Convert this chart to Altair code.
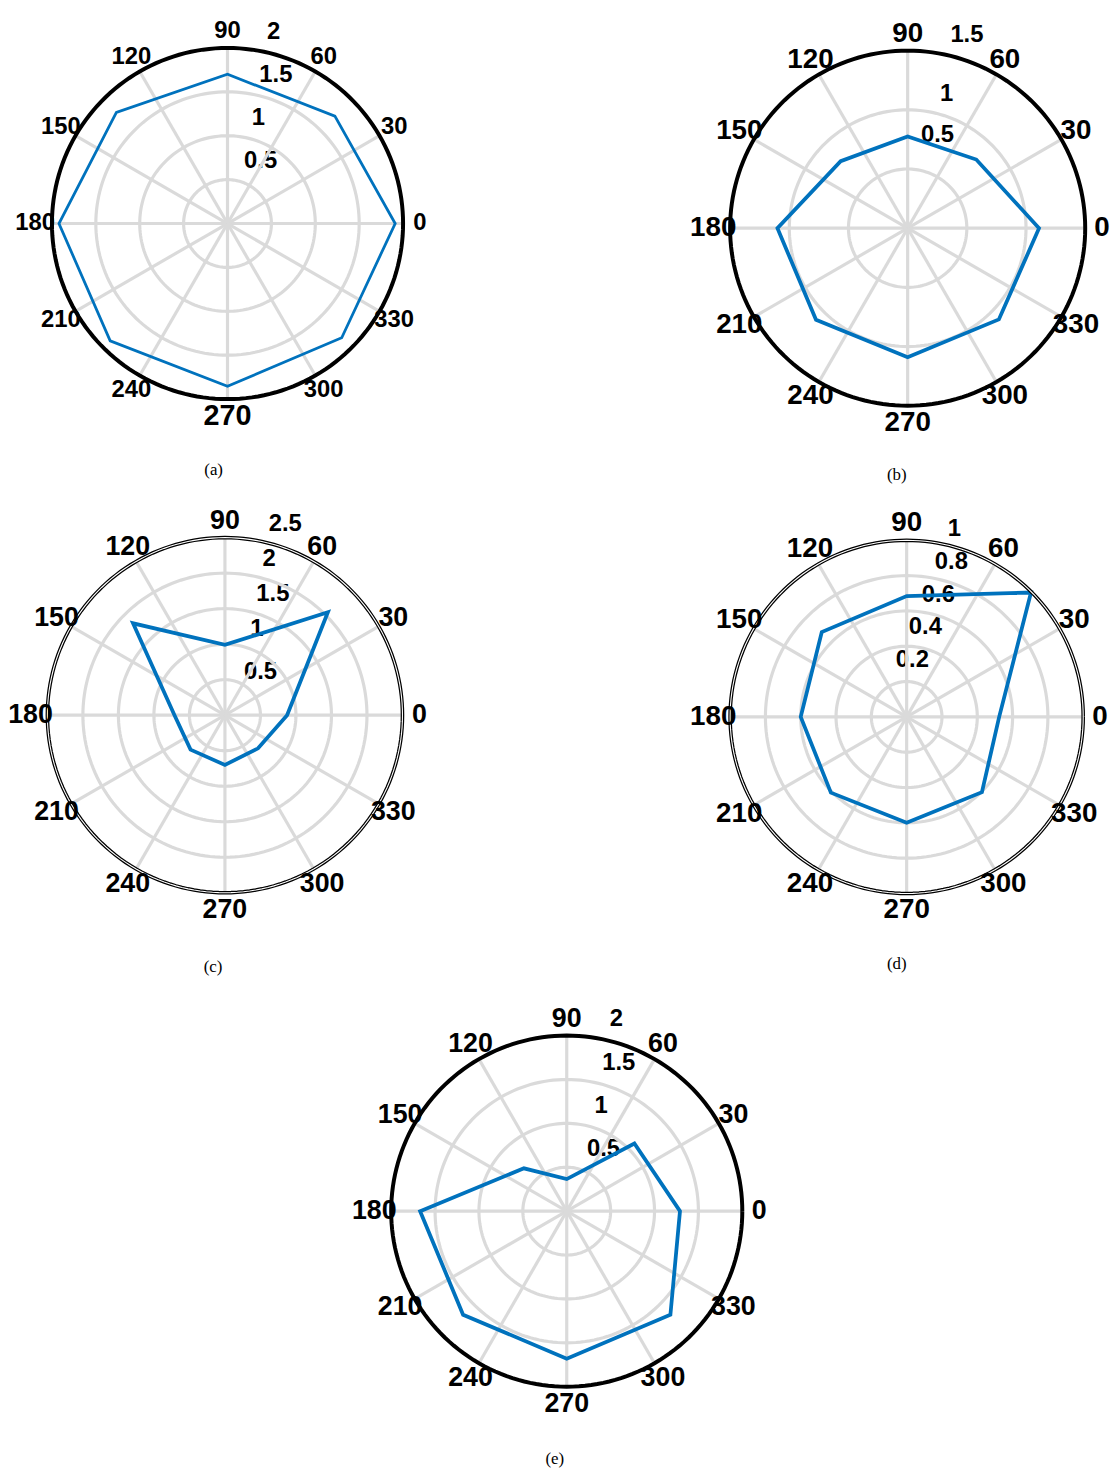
import altair as alt
import pandas as pd

# ---------------- data ----------------
ANGLES = [0, 45, 90, 135, 180, 225, 270, 315]

VALUES_A = [1.91, 1.73, 1.70, 1.79, 1.92, 1.89, 1.855, 1.84]
VALUES_B = [1.11, 0.82, 0.775, 0.80, 1.10, 1.095, 1.09, 1.09]
VALUES_C = [0.875, 2.05, 0.99, 1.83, 0.71, 0.685, 0.70, 0.66]
VALUES_D = [0.524, 0.996, 0.684, 0.68, 0.60, 0.607, 0.60, 0.603]
VALUES_E = [1.29, 1.09, 0.365, 0.69, 1.67, 1.67, 1.68, 1.67]

THETA_TICKS = [0, 30, 60, 90, 120, 150, 180, 210, 240, 270, 300, 330]
THETA_LABELS = ["0", "30", "60", "90", "120", "150", "180", "210", "240", "270", "300", "330"]

RTICKS_A = [0.5, 1, 1.5, 2]
RLABELS_A = ["0.5", "1", "1.5", "2"]
RTICKS_B = [0.5, 1, 1.5]
RLABELS_B = ["0.5", "1", "1.5"]
RTICKS_C = [0.5, 1, 1.5, 2, 2.5]
RLABELS_C = ["0.5", "1", "1.5", "2", "2.5"]
RTICKS_D = [0.2, 0.4, 0.6, 0.8, 1.0]
RLABELS_D = ["0.2", "0.4", "0.6", "0.8", "1"]
RTICKS_E = [0.5, 1, 1.5, 2]
RLABELS_E = ["0.5", "1", "1.5", "2"]

CAPTIONS = ["(a)", "(b)", "(c)", "(d)", "(e)"]

FONT = "Liberation Sans"
SERIF = "Liberation Serif"
GRID = "#dadada"
BLUE = "#0072BD"


def panel(values, rticks, rlabels, caption, width, height, cx, cy, R,
          angle_font, line_w, double_circle=False, big270=False,
          cap_dx=-13, cap_dy=250, tick_angle=80, tick_dx=10, tick_dy=-18,
          nudge=None):
    nudge = nudge or {}
    rmax = rticks[-1]
    s = R / rmax  # pixels per data unit
    xs = alt.Scale(domain=[-cx / s, (width - cx) / s], nice=False, zero=False)
    ys = alt.Scale(domain=[-(height - cy) / s, cy / s], nice=False, zero=False)

    def X(f):
        return alt.X(f, type="quantitative", scale=xs, axis=None)

    def Y(f):
        return alt.Y(f, type="quantitative", scale=ys, axis=None)

    # radial tick labels (drawn first: grid lines pass over them)
    tick_df = pd.DataFrame({"r": rticks, "label": rlabels})
    base_ticks = alt.Chart(tick_df).transform_calculate(
        x=f"datum.r*cos({tick_angle}*PI/180)", y=f"datum.r*sin({tick_angle}*PI/180)"
    )
    text_style = dict(align="left", baseline="middle", fontSize=24,
                      fontWeight="bold", font=FONT, color="black")
    tick_layers = []
    skip = " && ".join([f"datum.label != '{k}'" for k in nudge]) or "true"
    tick_layers.append(
        base_ticks.transform_filter(skip).mark_text(dx=tick_dx, dy=tick_dy, **text_style)
        .encode(x=X("x"), y=Y("y"), text="label:N")
    )
    for k, (ndx, ndy) in nudge.items():
        tick_layers.append(
            base_ticks.transform_filter(f"datum.label == '{k}'")
            .mark_text(dx=tick_dx + ndx, dy=tick_dy + ndy, **text_style)
            .encode(x=X("x"), y=Y("y"), text="label:N")
        )

    def circles(rings, color, w):
        df = pd.DataFrame({"ring": rings})
        return alt.Chart(df).transform_calculate(
            deg="sequence(0, 361, 2)"
        ).transform_flatten(["deg"]).transform_calculate(
            x="datum.ring*cos(datum.deg*PI/180)",
            y="datum.ring*sin(datum.deg*PI/180)"
        ).mark_line(color=color, strokeWidth=w).encode(
            x=X("x"), y=Y("y"), detail="ring:N", order="deg:Q"
        )

    grid_rings = circles(rticks[:-1], GRID, 3.2)

    spoke_df = pd.DataFrame({"t": THETA_TICKS})
    spokes = alt.Chart(spoke_df).transform_calculate(
        x0="0", y0="0",
        x1=f"{rmax}*cos(datum.t*PI/180)",
        y1=f"{rmax}*sin(datum.t*PI/180)"
    ).mark_rule(color=GRID, strokeWidth=3.2).encode(
        x=X("x0"), y=Y("y0"), x2="x1:Q", y2="y1:Q"
    )

    data_df = pd.DataFrame({"a": ANGLES, "v": values})
    poly = alt.Chart(data_df).transform_calculate(
        x="datum.v*cos(datum.a*PI/180)", y="datum.v*sin(datum.a*PI/180)"
    ).mark_line(color=BLUE, strokeWidth=line_w, interpolate="linear-closed").encode(
        x=X("x"), y=Y("y"), order="a:Q"
    )

    layers = tick_layers + [grid_rings, spokes, poly]
    if double_circle:
        layers.append(circles([rmax], "black", 3.6))
        layers.append(circles([rmax], "white", 1.1))
    else:
        layers.append(circles([rmax], "black", 4))

    rl = rmax * (R + 17) / R
    lab_df = pd.DataFrame({"t": THETA_TICKS, "label": THETA_LABELS})
    size_enc = alt.value(angle_font)
    if big270:
        size_enc = alt.condition("datum.label == '270'", alt.value(29), alt.value(angle_font))
    labels = alt.Chart(lab_df).transform_calculate(
        x=f"{rl}*cos(datum.t*PI/180)", y=f"{rl}*sin(datum.t*PI/180)"
    ).mark_text(
        align="center", baseline="middle", fontWeight="bold", font=FONT, color="black"
    ).encode(x=X("x"), y=Y("y"), text="label:N", size=size_enc)
    layers.append(labels)

    cap_df = pd.DataFrame({"c": [caption]})
    cap = alt.Chart(cap_df).transform_calculate(
        x=f"{cap_dx / s}", y=f"{-cap_dy / s}"
    ).mark_text(
        align="center", baseline="middle", fontSize=17, font=SERIF, color="black"
    ).encode(x=X("x"), y=Y("y"), text="c:N")
    layers.append(cap)

    return alt.layer(*layers).properties(width=width, height=height)


pa = panel(VALUES_A, RTICKS_A, RLABELS_A, CAPTIONS[0], 420, 490, 221.3, 211.3, 177,
           24, 2.8, big270=True, cap_dx=-14, cap_dy=249, tick_dx=9, tick_dy=-19)
pb = panel(VALUES_B, RTICKS_B, RLABELS_B, CAPTIONS[1], 420, 490, 221, 216, 179,
           28, 3.8, cap_dx=-11, cap_dy=249, tick_dx=12, tick_dy=-18,
           nudge={"0.5": (-9, -17)})
pc = panel(VALUES_C, RTICKS_C, RLABELS_C, CAPTIONS[2], 420, 490, 218.7, 212, 179,
           27, 3.8, double_circle=True, cap_dx=-12, cap_dy=254, tick_dx=13, tick_dy=-16,
           nudge={"0.5": (0, 8)})
pd_ = panel(VALUES_D, RTICKS_D, RLABELS_D, CAPTIONS[3], 420, 490, 220, 213.7, 178,
            28, 3.8, double_circle=True, cap_dx=-10, cap_dy=249,
            tick_angle=68.4, tick_dx=-24, tick_dy=-24)
pe = panel(VALUES_E, RTICKS_E, RLABELS_E, CAPTIONS[4], 1102, 470, 563.3, 217, 177,
           27, 3.8, cap_dx=-12, cap_dy=250, tick_dx=12.7, tick_dy=-19)

row1 = alt.hconcat(pa, pb, spacing=266, bounds="flush")
row2 = alt.hconcat(pc, pd_, spacing=266, bounds="flush")

chart = alt.vconcat(row1, row2, pe, spacing=5).properties(
    padding=0, background="white"
).configure_view(stroke=None)

chart.save("out.html", embed_options={"renderer": "svg", "actions": False})
